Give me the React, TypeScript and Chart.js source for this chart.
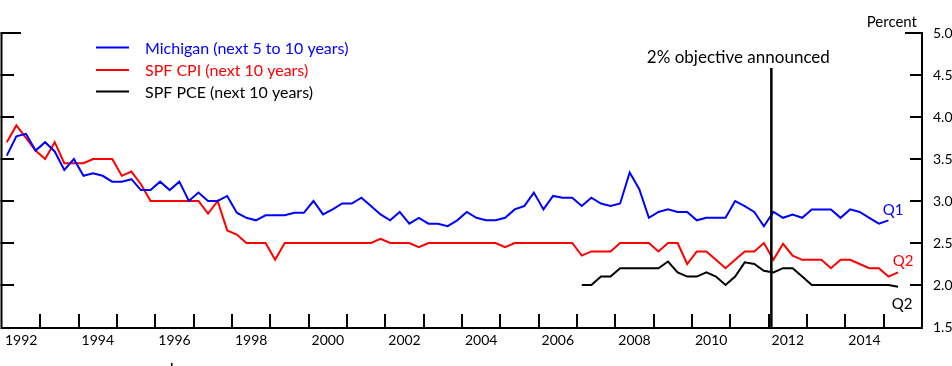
import React, { useEffect, useRef } from "react";
import { Chart, registerables } from "chart.js";

Chart.register(...registerables);

// Quarterly data, first value = 1992 Q1
const startYear = 1992;
const michigan = [
  3.54, 3.77, 3.80, 3.60, 3.70, 3.59, 3.37, 3.50, 3.30, 3.33, 3.30, 3.23, 3.23, 3.26, 3.13, 3.13,
  3.23, 3.13, 3.23, 3.00, 3.10, 3.00, 3.00, 3.06, 2.86, 2.80, 2.77, 2.83, 2.83, 2.83, 2.86, 2.86,
  3.00, 2.84, 2.90, 2.97, 2.97, 3.04, 2.94, 2.84, 2.77, 2.87, 2.73, 2.80, 2.73, 2.73, 2.70, 2.77,
  2.87, 2.80, 2.77, 2.77, 2.80, 2.90, 2.94, 3.10, 2.90, 3.06, 3.04, 3.04, 2.94, 3.04, 2.97, 2.94,
  2.97, 3.34, 3.14, 2.80, 2.87, 2.90, 2.87, 2.87, 2.77, 2.80, 2.80, 2.80, 3.00, 2.94, 2.87, 2.70,
  2.87, 2.80, 2.84, 2.80, 2.90, 2.90, 2.90, 2.80, 2.90, 2.87, 2.80, 2.73, 2.77,
];
const spfCpi = [
  3.70, 3.90, 3.75, 3.60, 3.50, 3.70, 3.45, 3.45, 3.45, 3.50, 3.50, 3.50, 3.30, 3.35, 3.20, 3.00,
  3.00, 3.00, 3.00, 3.00, 3.00, 2.85, 3.00, 2.65, 2.60, 2.50, 2.50, 2.50, 2.30, 2.50, 2.50, 2.50,
  2.50, 2.50, 2.50, 2.50, 2.50, 2.50, 2.50, 2.55, 2.50, 2.50, 2.50, 2.45, 2.50, 2.50, 2.50, 2.50,
  2.50, 2.50, 2.50, 2.50, 2.45, 2.50, 2.50, 2.50, 2.50, 2.50, 2.50, 2.50, 2.35, 2.40, 2.40, 2.40,
  2.50, 2.50, 2.50, 2.50, 2.40, 2.50, 2.50, 2.25, 2.40, 2.40, 2.30, 2.20, 2.30, 2.40, 2.40, 2.50,
  2.30, 2.49, 2.35, 2.30, 2.30, 2.30, 2.20, 2.30, 2.30, 2.25, 2.20, 2.20, 2.10, 2.15,
];
// SPF PCE starts 2007 Q1 (quarter index 60)
const spfPceStart = 60;
const spfPce = [
  2.00, 2.00, 2.10, 2.10, 2.20, 2.20, 2.20, 2.20, 2.20, 2.28, 2.15, 2.10, 2.10, 2.15, 2.10, 2.00,
  2.10, 2.27, 2.25, 2.17, 2.15, 2.20, 2.20, 2.10, 2.00, 2.00, 2.00, 2.00, 2.00, 2.00, 2.00, 2.00,
  2.00, 1.98,
];
const seriesNames = ["Michigan (next 5 to 10 years)", "SPF CPI (next 10 years)", "SPF PCE (next 10 years)"];
const seriesColors = ["#0000ff", "#ff0000", "#000000"];
const endLabels = ["Q1", "Q2", "Q2"];
const yearLabels = ["1992", "1994", "1996", "1998", "2000", "2002", "2004", "2006", "2008", "2010", "2012", "2014"];
const yTicks = [1.5, 2.0, 2.5, 3.0, 3.5, 4.0, 4.5, 5.0];
const xMin = 1992;
const xMax = 2016;
const yMin = 1.5;
const yMax = 5.0;
const announceDate = 2012.07;
const announceText = "2% objective announced";
const unitLabel = "Percent";

const toPoints = (vals: number[], offset: number) =>
  vals.map((v, i) => ({ x: startYear + (offset + i + 0.5) / 4, y: v }));

const FONT = "Lato, 'Open Sans', sans-serif";

const overlayPlugin = {
  id: "overlay",
  afterDraw(chart: any) {
    const ctx = chart.ctx as CanvasRenderingContext2D;
    const xs = chart.scales.x;
    const ys = chart.scales.y;
    const area = chart.chartArea;
    const L = area.left, R = area.right, T = area.top, B = area.bottom;
    ctx.save();
    ctx.strokeStyle = "#000";
    ctx.fillStyle = "#000";
    ctx.lineWidth = 2;
    ctx.lineCap = "butt";

    // axes
    ctx.beginPath();
    ctx.moveTo(L - 0.5, T);
    ctx.lineTo(L - 0.5, B + 1);
    ctx.lineTo(R, B + 1);
    ctx.lineTo(R, T);
    ctx.stroke();

    // x ticks (every year, inward)
    for (let yr = xMin + 1; yr < xMax; yr++) {
      const px = Math.round(xs.getPixelForValue(yr));
      ctx.beginPath();
      ctx.moveTo(px, B + 1);
      ctx.lineTo(px, B - 13);
      ctx.stroke();
    }
    // y ticks both sides
    for (const v of yTicks) {
      if (v === yMin) continue;
      const py = Math.round(ys.getPixelForValue(v));
      const lenL = v === yMax ? 19 : 12;
      const lenR = v === yMax ? 17 : 12;
      ctx.beginPath();
      ctx.moveTo(L - 1.5, py);
      ctx.lineTo(L + lenL, py);
      ctx.moveTo(R + 1, py);
      ctx.lineTo(R - lenR, py);
      ctx.stroke();
    }

    // year labels
    ctx.font = `14px ${FONT}`;
    ctx.textAlign = "center";
    ctx.textBaseline = "alphabetic";
    for (const lab of yearLabels) {
      const yr = Number(lab);
      ctx.fillText(lab, xs.getPixelForValue(yr + 0.5), 345);
    }
    // right y labels
    ctx.textAlign = "left";
    ctx.textBaseline = "middle";
    for (const v of yTicks) {
      ctx.fillText(v.toFixed(1), R + 11, ys.getPixelForValue(v));
    }
    // unit label
    ctx.font = `15px ${FONT}`;
    ctx.textAlign = "right";
    ctx.fillText(unitLabel, R - 5, 22);

    // announcement line
    const ax = xs.getPixelForValue(announceDate);
    ctx.lineWidth = 2.5;
    ctx.beginPath();
    ctx.moveTo(ax, 68);
    ctx.lineTo(ax, B + 1);
    ctx.stroke();
    ctx.font = `17px ${FONT}`;
    ctx.textAlign = "center";
    ctx.textBaseline = "alphabetic";
    ctx.fillText(announceText, ax - 33, 63);

    // legend
    ctx.lineWidth = 2;
    ctx.font = `16px ${FONT}`;
    ctx.textAlign = "left";
    ctx.textBaseline = "middle";
    const legY = [47.5, 70, 91.5];
    seriesNames.forEach((name, i) => {
      ctx.strokeStyle = seriesColors[i];
      ctx.fillStyle = seriesColors[i];
      ctx.beginPath();
      ctx.moveTo(96, legY[i]);
      ctx.lineTo(129, legY[i]);
      ctx.stroke();
      ctx.fillText(name, 145, legY[i] + 1);
    });

    // end labels
    ctx.font = `15px ${FONT}`;
    ctx.textAlign = "center";
    const endPos = [
      { x: 893, y: 210 },
      { x: 903, y: 261 },
      { x: 902, y: 304 },
    ];
    endLabels.forEach((lab, i) => {
      ctx.fillStyle = seriesColors[i];
      ctx.fillText(lab, endPos[i].x, endPos[i].y);
    });

    // small stray mark in source
    ctx.fillStyle = "#000";
    ctx.fillRect(171, 363, 1.5, 3);
    ctx.restore();
  },
};

export default function App() {
  const ref = useRef<HTMLCanvasElement | null>(null);
  useEffect(() => {
    if (!ref.current) return;
    const ds = (label: string, data: any[], color: string) => ({
      label,
      data,
      borderColor: color,
      backgroundColor: color,
      borderWidth: 2,
      pointRadius: 0,
      tension: 0,
      fill: false,
    });
    const chart = new Chart(ref.current, {
      type: "line",
      data: {
        datasets: [
          ds(seriesNames[0], toPoints(michigan, 0), seriesColors[0]),
          ds(seriesNames[1], toPoints(spfCpi, 0), seriesColors[1]),
          ds(seriesNames[2], toPoints(spfPce, spfPceStart), seriesColors[2]),
        ],
      },
      options: {
        animation: false,
        responsive: false,
        devicePixelRatio: 1,
        layout: { padding: { left: 2, right: 30, top: 33, bottom: 39 } },
        plugins: { legend: { display: false }, tooltip: { enabled: false } },
        scales: {
          x: { type: "linear", min: xMin, max: xMax, display: false },
          y: { type: "linear", min: yMin, max: yMax, display: false },
        },
      },
      plugins: [overlayPlugin],
    });
    return () => chart.destroy();
  }, []);
  return (
    <div style={{ position: "fixed", left: 0, top: 0, width: 952, height: 366, background: "#fff" }}>
      <canvas ref={ref} width={952} height={366} style={{ display: "block" }} />
    </div>
  );
}
